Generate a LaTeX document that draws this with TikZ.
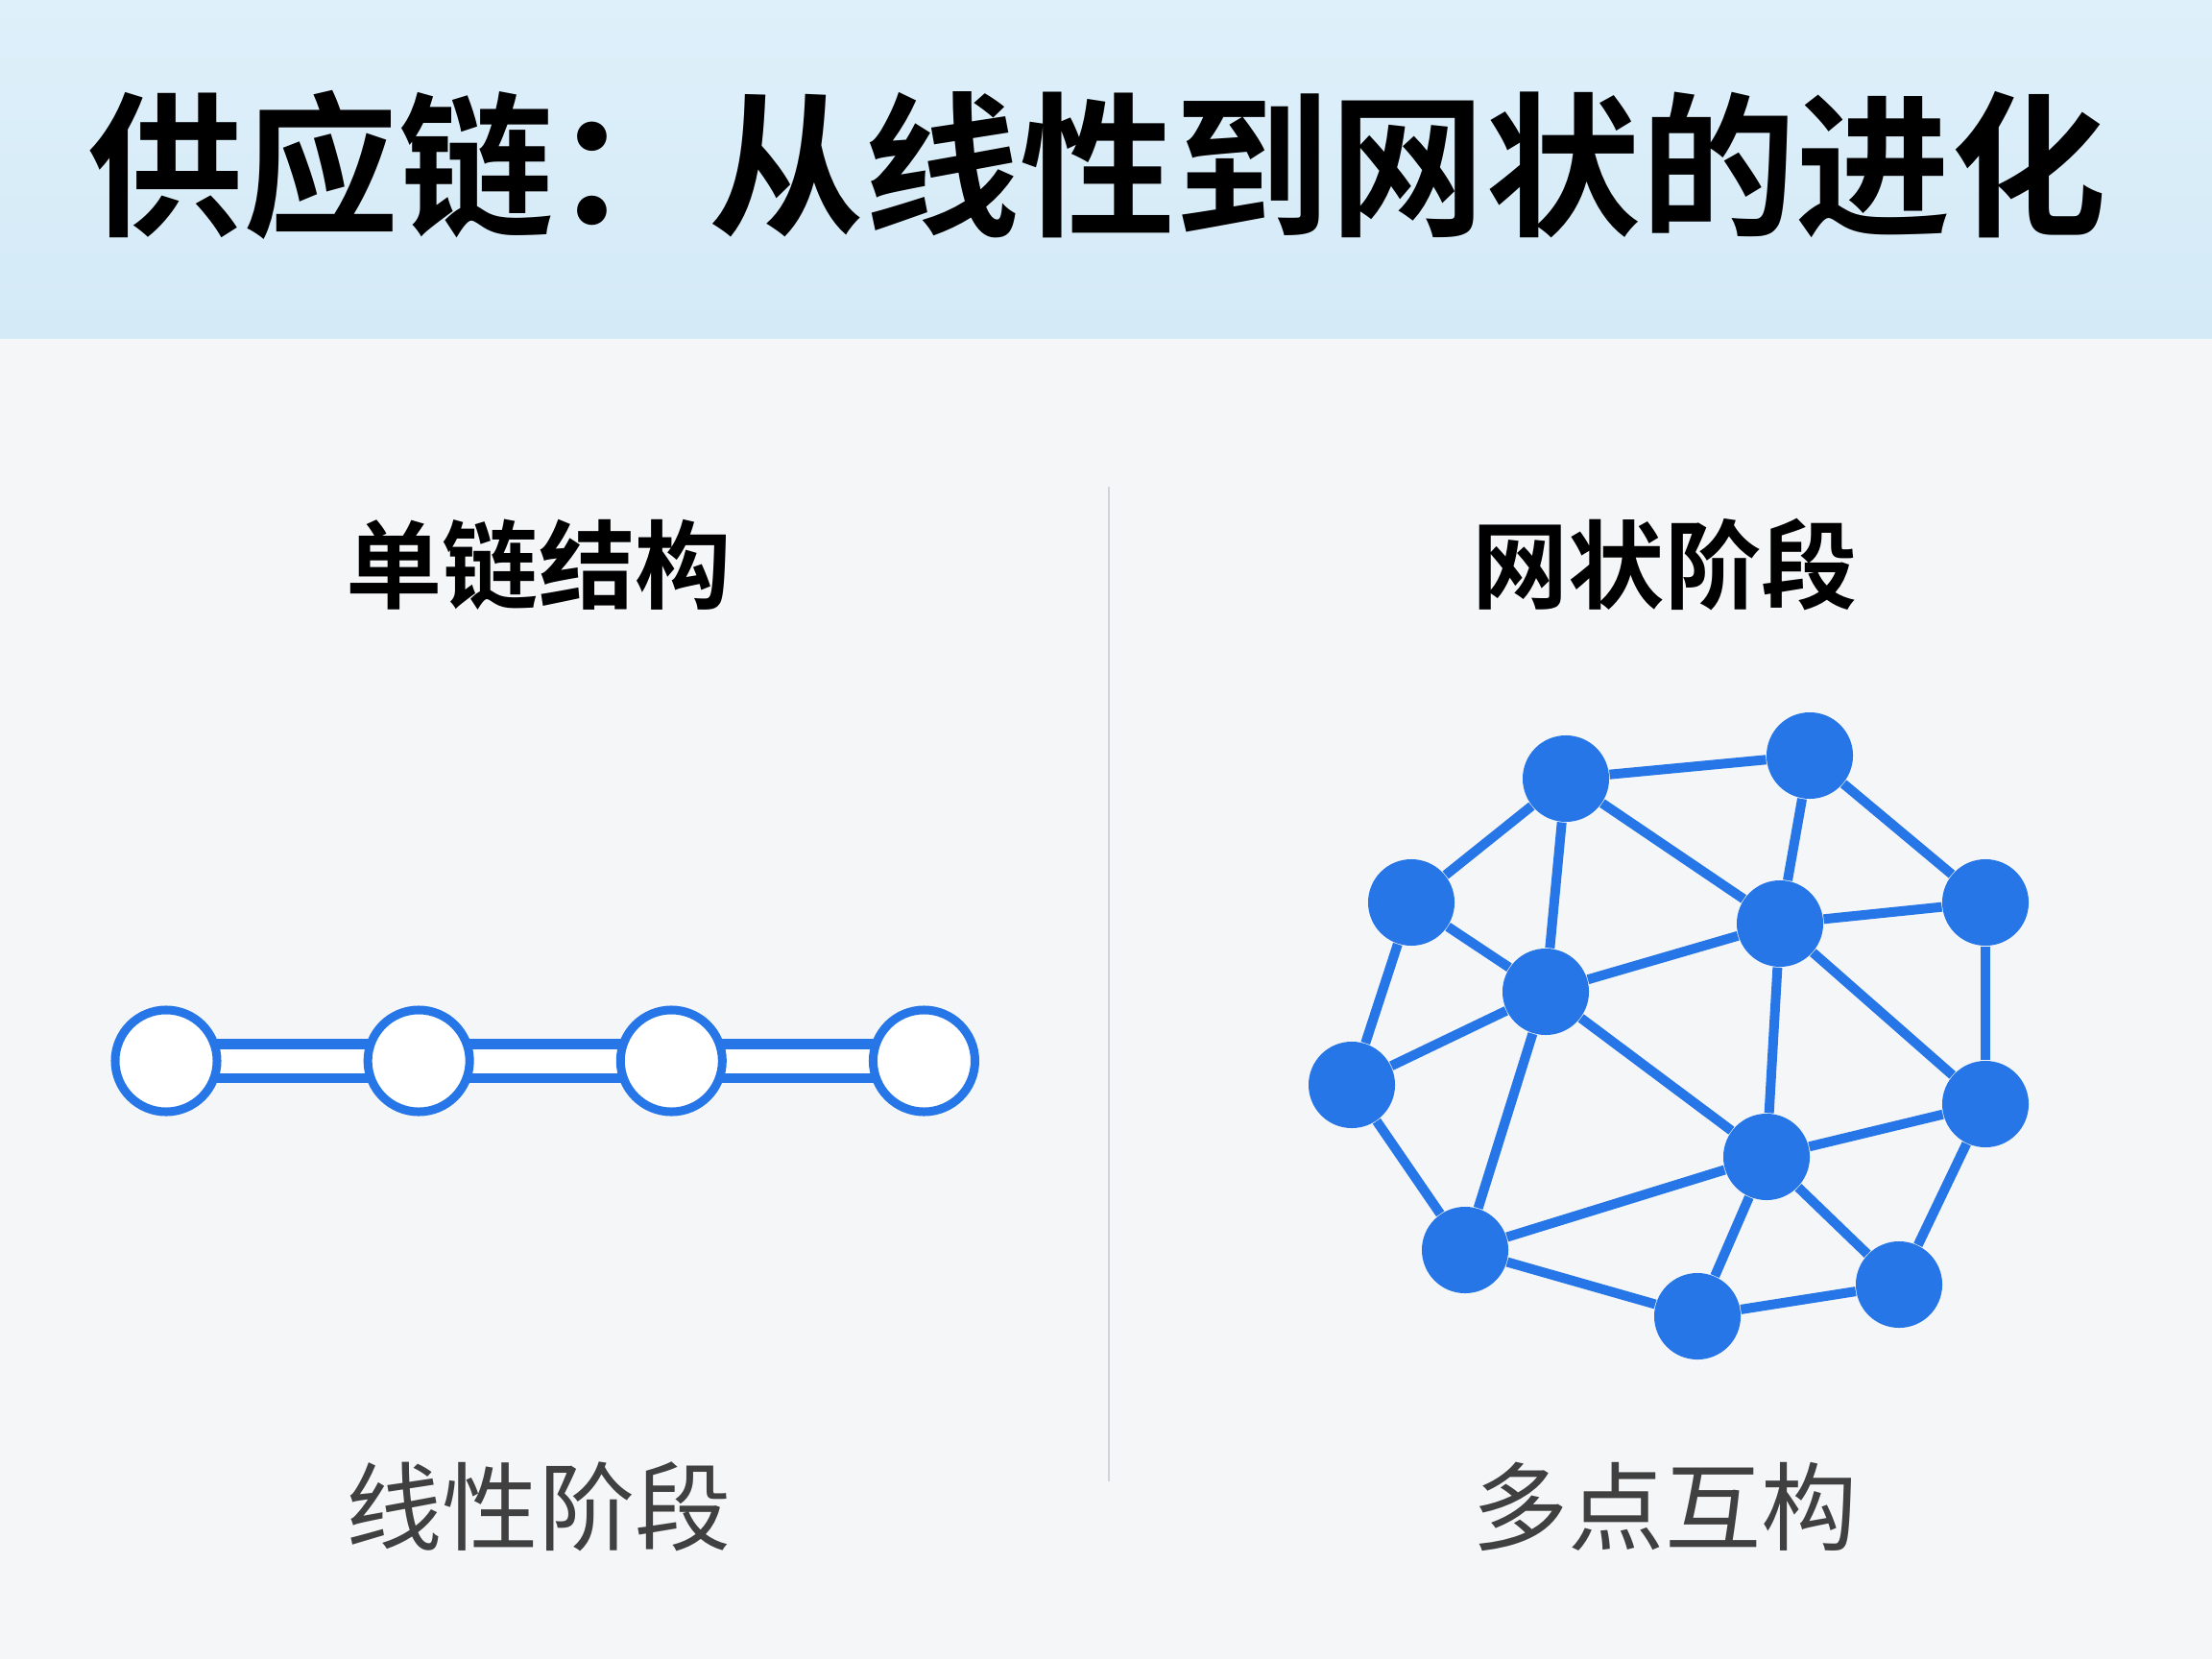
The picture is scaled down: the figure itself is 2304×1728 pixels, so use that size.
\documentclass[tikz,border=0pt]{standalone}
\usepackage{fontspec}
\usepackage{xcolor}
\usepackage{tikz}
\usetikzlibrary{positioning}
\newfontfamily\cjk{Noto Sans CJK SC}[BoldFont={Noto Sans CJK SC Bold}]
\definecolor{netblue}{RGB}{38,118,232}
\definecolor{bandtop}{RGB}{222,240,250}
\definecolor{bandbottom}{RGB}{212,234,247}
\definecolor{paper}{RGB}{244,246,248}
\definecolor{labelgray}{RGB}{64,64,64}
\definecolor{rulegray}{RGB}{208,212,216}
\pgfdeclarelayer{backdrop}
\pgfdeclarelayer{links}
\pgfsetlayers{backdrop,links,main}
\tikzset{
  title-text/.style={font=\cjk\bfseries\fontsize{46}{50}\selectfont, text=black, inner sep=0pt},
  head-text/.style={font=\cjk\bfseries\fontsize{28.5}{32}\selectfont, text=black, inner sep=0pt},
  foot-text/.style={font=\cjk\fontsize{28.5}{32}\selectfont, text=labelgray, inner sep=0pt},
  chain-node/.style={circle, draw=netblue, line width=0.09cm, fill=white,
    minimum size=1.06cm, inner sep=0pt},
  chain-link/.style={draw=netblue, line width=0.1cm, double=white, double distance=0.25cm},
  net-node/.style={circle, fill=netblue, minimum size=0.9cm, inner sep=0pt},
  net-link/.style={draw=netblue, line width=0.1cm}
}

\begin{document}
\begin{tikzpicture}[x=0.01cm, y=-0.01cm]
\useasboundingbox (0,0) rectangle (2304,1728);

% Page and title band
\begin{pgfonlayer}{backdrop}
\fill[paper] (0,0) rectangle (2304,1728);
\shade[top color=bandtop, bottom color=bandbottom] (0,0) rectangle (2304,353);
\draw[rulegray, line width=0.02cm] (1155,507) -- (1155,1543);
\end{pgfonlayer}

% Title
\node[title-text] (title) at (1143,172) {供应链：从线性到网状的进化};

% Column headings and captions
\node[head-text] (linhead) at (561,588) {单链结构};
\node[head-text] (nethead) at (1734,588) {网状阶段};
\node[foot-text] (linfoot) at (561,1569) {线性阶段};
\node[foot-text] (netfoot) at (1734,1569) {多点互构};

% Linear chain
\node[chain-node] (c1) at (173,1105) {};
\node[chain-node, right=1.48cm of c1] (c2) {};
\node[chain-node, right=1.48cm of c2] (c3) {};
\node[chain-node, right=1.48cm of c3] (c4) {};

\begin{pgfonlayer}{links}
\draw[chain-link] (c1.center) -- (c2.center);
\draw[chain-link] (c2.center) -- (c3.center);
\draw[chain-link] (c3.center) -- (c4.center);
\end{pgfonlayer}

% Network nodes
\node[net-node] (na) at (1631,811) {};
\node[net-node] (nb) at (1885,787) {};
\node[net-node] (nc) at (1470,940) {};
\node[net-node] (nd) at (1854,962) {};
\node[net-node] (ne) at (2068,940) {};
\node[net-node] (nf) at (1610,1033) {};
\node[net-node] (ng) at (1408,1130) {};
\node[net-node] (nh) at (2068,1150) {};
\node[net-node] (ni) at (1840,1205) {};
\node[net-node] (nj) at (1526,1302) {};
\node[net-node] (nk) at (1768,1371) {};
\node[net-node] (nl) at (1978,1338) {};

% Network links
\draw[net-link] (na) -- (nb);
\draw[net-link] (na) -- (nc);
\draw[net-link] (na) -- (nf);
\draw[net-link] (na) -- (nd);
\draw[net-link] (nb) -- (nd);
\draw[net-link] (nb) -- (ne);
\draw[net-link] (nc) -- (nf);
\draw[net-link] (nc) -- (ng);
\draw[net-link] (nd) -- (ne);
\draw[net-link] (nd) -- (nf);
\draw[net-link] (nd) -- (ni);
\draw[net-link] (nd) -- (nh);
\draw[net-link] (ne) -- (nh);
\draw[net-link] (nf) -- (ng);
\draw[net-link] (nf) -- (nj);
\draw[net-link] (nf) -- (ni);
\draw[net-link] (ng) -- (nj);
\draw[net-link] (nh) -- (ni);
\draw[net-link] (nh) -- (nl);
\draw[net-link] (ni) -- (nj);
\draw[net-link] (ni) -- (nk);
\draw[net-link] (ni) -- (nl);
\draw[net-link] (nj) -- (nk);
\draw[net-link] (nk) -- (nl);
\end{tikzpicture}
\end{document}
